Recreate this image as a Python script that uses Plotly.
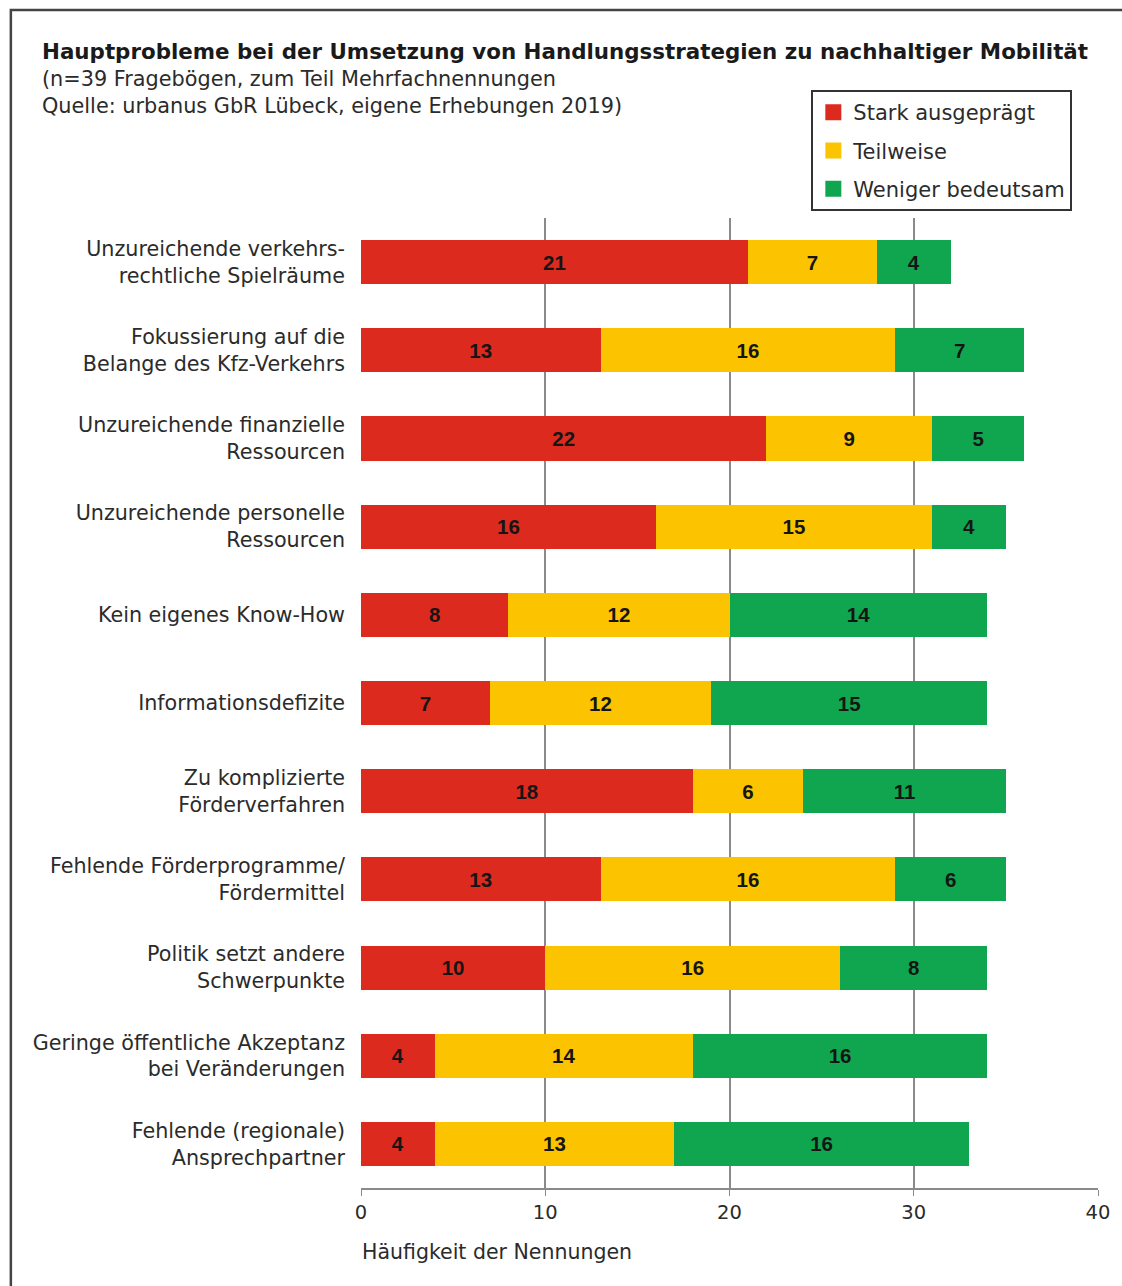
import plotly.graph_objects as go

categories = [
    "Unzureichende verkehrs-<br>rechtliche Spielräume",
    "Fokussierung auf die<br>Belange des Kfz-Verkehrs",
    "Unzureichende finanzielle<br>Ressourcen",
    "Unzureichende personelle<br>Ressourcen",
    "Kein eigenes Know-How",
    "Informationsdefizite",
    "Zu komplizierte<br>Förderverfahren",
    "Fehlende Förderprogramme/<br>Fördermittel",
    "Politik setzt andere<br>Schwerpunkte",
    "Geringe öffentliche Akzeptanz<br>bei Veränderungen",
    "Fehlende (regionale)<br>Ansprechpartner",
]
stark = [21, 13, 22, 16, 8, 7, 18, 13, 10, 4, 4]
teilweise = [7, 16, 9, 15, 12, 12, 6, 16, 16, 14, 13]
weniger = [4, 7, 5, 4, 14, 15, 11, 6, 8, 16, 16]
series_names = ["Stark ausgeprägt", "Teilweise", "Weniger bedeutsam"]
colors = ["#DC2A1E", "#FCC400", "#10A64F"]
x_ticks = [0, 10, 20, 30, 40]

W, H = 1122, 1286
L, R, T, B = 361, 18, 218, 98
pw, ph = W - L - R, H - T - B

def px(x):
    return (x - L) / pw

def py(y):
    return 1 - (y - T) / ph

FONT = "DejaVu Sans, Liberation Sans, Arial, sans-serif"
NUMFONT = "Liberation Sans, Arial, sans-serif"
TXT = "#2b2b2b"

fig = go.Figure()
for i, (name, vals, col) in enumerate(zip(series_names, [stark, teilweise, weniger], colors)):
    fig.add_trace(go.Bar(
        y=categories, x=vals, orientation="h", name=name,
        marker=dict(color=col, line=dict(width=0)),
        text=vals, textposition="inside", insidetextanchor="middle",
        textfont=dict(family=NUMFONT, size=20.5, color="#151515", weight="bold"),
        showlegend=False, hoverinfo="x+name",
    ))
    fig.add_trace(go.Scatter(
        x=[None], y=[None], mode="markers", name=name, legendgroup=f"g{i}",
        marker=dict(symbol="square", size=16, color=col),
        showlegend=True,
    ))

fig.update_layout(
    width=W, height=H,
    margin=dict(l=L, r=R, t=T, b=B),
    paper_bgcolor="white", plot_bgcolor="white",
    barmode="stack", bargap=0.5,
    font=dict(family=FONT, size=20, color=TXT),
    legend=dict(
        x=px(815), y=py(90), xanchor="left", yanchor="top",
        bordercolor="#333", borderwidth=2, bgcolor="white",
        font=dict(size=21, color=TXT), itemsizing="trace",
        traceorder="grouped", tracegroupgap=8,
    ),
    xaxis=dict(
        range=[0, 40], tickvals=x_ticks, showgrid=True, gridcolor="#8a8a8a",
        gridwidth=1.5, zeroline=False, showline=True, linecolor="#8a8a8a",
        linewidth=1.5, ticks="outside", ticklen=6, tickcolor="#8a8a8a",
        tickfont=dict(size=19.5, color=TXT), fixedrange=True,
    ),
    yaxis=dict(
        categoryorder="array", categoryarray=categories,
        range=[10.5, -0.5], automargin=False, showgrid=False,
        ticks="", ticklabelstandoff=15, tickfont=dict(size=20.7, color=TXT),
        showline=False,
    ),
    shapes=[dict(
        type="rect", xref="paper", yref="paper",
        x0=px(8), x1=px(1135), y0=py(1300), y1=py(10),
        line=dict(color="#444", width=2.5), fillcolor="rgba(0,0,0,0)",
        layer="below",
    )],
    annotations=[
        dict(text="<b>Hauptprobleme bei der Umsetzung von Handlungsstrategien zu nachhaltiger Mobilität</b>",
             xref="paper", yref="paper", x=px(37), y=py(52), xanchor="left", yanchor="middle",
             showarrow=False, font=dict(size=21.4, color="#1a1a1a")),
        dict(text="(n=39 Fragebögen, zum Teil Mehrfachnennungen<br>Quelle: urbanus GbR Lübeck, eigene Erhebungen 2019)",
             xref="paper", yref="paper", x=px(37), y=py(92), xanchor="left", yanchor="middle",
             align="left", showarrow=False, font=dict(size=20.8, color=TXT)),
        dict(text="Häufigkeit der Nennungen",
             xref="paper", yref="paper", x=px(360), y=py(1252), xanchor="left", yanchor="middle",
             showarrow=False, font=dict(size=20.5, color=TXT)),
    ],
)

fig.write_html("out.html")
